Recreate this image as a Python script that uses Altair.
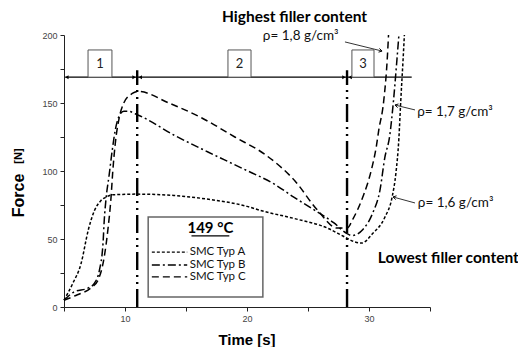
import altair as alt
import pandas as pd

# ---- curve data (Time [s], Force [N]) ----
A_x = [5, 5.7, 6.4, 7.0, 7.5, 8.0, 8.5, 9.0, 11.0, 14.0, 17.0, 20.0, 21.1, 23.9, 26.6, 27.9, 28.8, 29.4, 30.3, 31.3, 31.9, 32.2, 32.45, 32.6, 32.8, 32.9]
A_y = [5, 17, 32, 57, 71, 78, 81, 82.5, 83, 82, 79, 74, 71, 65, 58, 52, 48, 47, 54, 66, 81, 98, 124, 151, 183, 200]

B_x = [5, 5.8, 7.0, 7.5, 7.9, 8.2, 8.3, 8.45, 8.7, 8.95, 9.2, 9.5, 9.9, 10.2, 11.1, 14.1, 16.8, 19.6, 22.3, 23.8, 25.4, 27.1, 28.2, 28.6, 29.5, 30.3, 30.9, 31.3, 31.7, 32.0, 32.3, 32.45]
B_y = [5, 11, 14, 17.6, 27, 47, 64, 80, 97, 115, 130, 140, 144, 144, 141, 126, 114, 102, 90, 81, 72, 62, 54, 52.5, 57, 69, 86, 110, 126, 151, 183, 200]

C_x = [5, 6.1, 7.2, 7.8, 8.3, 8.6, 8.85, 9.0, 9.2, 9.5, 9.9, 10.6, 11.1, 13.6, 16.3, 19.0, 21.5, 23.9, 25.8, 27.4, 28.2, 28.7, 29.5, 30.2, 30.6, 30.8, 31.2, 31.5, 31.6]
C_y = [5, 9, 14, 20, 37, 57, 80, 100, 120, 138, 150, 157, 158.5, 150, 139, 125, 112, 93, 71, 58, 58, 65, 81, 101, 118, 130, 151, 183, 200]

series_names = ["SMC Typ A", "SMC Typ B", "SMC Typ C"]
dash_styles = [[3, 2], [8, 3, 2, 3], [7, 4]]

x_ticks = [5, 10, 15, 20, 25, 30, 35]
y_ticks = [0, 25, 50, 75, 100, 125, 150, 175, 200]

# phase markers
phase_x = [11.0, 28.2]
phase_top = 174
arrow_y = 169
arrow_x = [5.1, 33.5]
box_labels = ["1", "2", "3"]
box_x1 = [6.97, 18.44, 28.6]
box_x2 = [8.93, 20.33, 30.41]
box_y1 = 169
box_y2 = 189

# annotations
dens_labels = ["ρ= 1,8 g/cm³", "ρ= 1,7 g/cm³", "ρ= 1,6 g/cm³"]
dens_tx = [21.3, 33.95, 34.0]
dens_ty = [199.5, 143.4, 76.3]
dens_ax1 = [28.03, 33.77, 33.77]
dens_ay1 = [194.9, 144.9, 76.5]
dens_ax2 = [31.07, 32.13, 31.97]
dens_ay2 = [188.2, 148.5, 80.9]
dens_ang = [13.7, 194.0, 192.8]

bold_labels = ["Highest filler content", "Lowest filler content"]
bold_x = [23.9, 36.5]
bold_y = [213.5, 36.0]

legend_title = "149 °C"

# ---------------------------------------------------------------
rows = []
for name, xs, ys in zip(series_names, [A_x, B_x, C_x], [A_y, B_y, C_y]):
    for i, (xv, yv) in enumerate(zip(xs, ys)):
        rows.append({"x": xv, "y": yv, "s": name, "o": i})
curves = pd.DataFrame(rows)

xs_ = alt.Scale(domain=[5, 35], nice=False, zero=False)
ys_ = alt.Scale(domain=[0, 200], nice=False)
dash_scale = alt.Scale(domain=series_names, range=dash_styles)

axis_common = dict(grid=False, title=None, domainColor="#222", domainWidth=1,
                   tickColor="#222", tickSize=4, labelFont="Liberation Sans",
                   labelFontSize=9, labelColor="#444", labelPadding=3)
x_axis = alt.Axis(values=x_ticks, labelExpr="datum.value % 10 == 0 ? datum.label : ''", **axis_common)
y_axis = alt.Axis(values=y_ticks, labelExpr="datum.value % 50 == 0 ? datum.label : ''", **axis_common)


def xa(f="x"):
    return alt.X(f"{f}:Q", scale=xs_, axis=x_axis)


def ya(f="y"):
    return alt.Y(f"{f}:Q", scale=ys_, axis=y_axis)


lines = alt.Chart(curves).mark_line(interpolate="monotone", color="black", strokeWidth=1.5).encode(
    x=xa(), y=ya(), detail="s:N", order="o:Q",
    strokeDash=alt.StrokeDash("s:N", scale=dash_scale, legend=None),
)

# vertical phase lines
vdf = pd.DataFrame({"x": phase_x, "y": [0] * len(phase_x), "y2": [phase_top] * len(phase_x)})
vlines = alt.Chart(vdf).mark_rule(color="black", strokeWidth=2.4, strokeDash=[18, 5, 2, 5, 2, 5]).encode(
    x=xa(), y=ya(), y2="y2:Q")

# horizontal arrow line
hdf = pd.DataFrame({"x": [arrow_x[0]], "x2": [arrow_x[1]], "y": [arrow_y]})
hline = alt.Chart(hdf).mark_rule(color="black", strokeWidth=1.1).encode(x=xa(), x2="x2:Q", y=ya())

heads = pd.DataFrame({
    "x": [arrow_x[0], phase_x[0] - 0.12, phase_x[0] + 0.12, phase_x[1] - 0.12, phase_x[1] + 0.12],
    "y": [arrow_y] * 5,
    "ang": [180, 0, 180, 0, 180],
})
hheads = alt.Chart(heads).mark_point(shape="M0,0L-1,-0.6L-1,0.6Z", filled=True, color="black",
                                     size=45, opacity=1).encode(
    x=xa(), y=ya(), angle=alt.Angle("ang:Q", scale=None))

# numbered boxes
bdf = pd.DataFrame({"x": box_x1, "x2": box_x2, "y": [box_y1] * 3, "y2": [box_y2] * 3, "t": box_labels,
                    "xc": [(a + b) / 2 for a, b in zip(box_x1, box_x2)], "yc": [(box_y1 + box_y2) / 2] * 3})
boxes = alt.Chart(bdf).mark_rect(fill="white", stroke="#555", strokeWidth=1).encode(
    x=xa(), x2="x2:Q", y=ya(), y2="y2:Q")
box_text = alt.Chart(bdf).mark_text(font="Lato", fontSize=13, color="#222", baseline="middle").encode(
    x=xa("xc"), y=ya("yc"), text="t:N")

# density annotations
ddf = pd.DataFrame({"t": dens_labels, "tx": dens_tx, "ty": dens_ty, "x": dens_ax1, "y": dens_ay1,
                    "x2": dens_ax2, "y2": dens_ay2, "ang": dens_ang})
dtext = alt.Chart(ddf).mark_text(font="Lato", fontSize=13.5, align="left", baseline="middle", color="#111").encode(
    x=xa("tx"), y=ya("ty"), text="t:N")
dlines = alt.Chart(ddf).mark_rule(color="black", strokeWidth=0.8).encode(x=xa(), y=ya(), x2="x2:Q", y2="y2:Q")
dheads = alt.Chart(ddf).mark_point(shape="M-1,-0.6L0,0L-1,0.6", filled=False, color="black",
                                   strokeWidth=0.9, size=40, opacity=1).encode(
    x=xa("x2"), y=ya("y2"), angle=alt.Angle("ang:Q", scale=None))

btdf = pd.DataFrame({"t": bold_labels, "x": bold_x, "y": bold_y})
btext = alt.Chart(btdf).mark_text(font="Lato", fontWeight="bold", fontSize=15.5, baseline="middle",
                                  color="black").encode(x=xa(), y=ya(), text="t:N")

# legend box
lgbox = alt.Chart(pd.DataFrame({"x": [11.9], "x2": [21.3], "y": [7.4], "y2": [66.2]})).mark_rect(
    fill="white", stroke="#666", strokeWidth=1.5).encode(x=xa(), x2="x2:Q", y=ya(), y2="y2:Q")
lgtitle = alt.Chart(pd.DataFrame({"t": [legend_title], "x": [17.0], "y": [58.0]})).mark_text(
    font="Lato", fontWeight="bold", fontSize=15, baseline="middle").encode(x=xa(), y=ya(), text="t:N")
lgunder = alt.Chart(pd.DataFrame({"x": [15.45], "x2": [18.55], "y": [52.3]})).mark_rule(
    color="black", strokeWidth=1.2).encode(x=xa(), x2="x2:Q", y=ya())
lgrow = pd.DataFrame({"s": series_names, "x": [12.2] * 3, "x2": [15.1] * 3, "y": [40.4, 30.9, 22.1],
                      "tx": [15.3] * 3})
lgsample = alt.Chart(lgrow).mark_rule(color="black", strokeWidth=1.3).encode(
    x=xa(), x2="x2:Q", y=ya(), strokeDash=alt.StrokeDash("s:N", scale=dash_scale, legend=None))
lgtext = alt.Chart(lgrow).mark_text(font="Lato", fontSize=11.5, align="left", baseline="middle",
                                    color="#111").encode(x=xa("tx"), y=ya(), text="s:N")

# axis titles
xt = alt.Chart(pd.DataFrame({"t": ["Time [s]"], "x": [20.0], "y": [-24.5]})).mark_text(
    font="Liberation Sans", fontWeight="bold", fontSize=15, baseline="middle").encode(x=xa(), y=ya(), text="t:N")
yt1 = alt.Chart(pd.DataFrame({"t": ["Force"], "x": [1.35], "y": [82.0]})).mark_text(
    font="Liberation Sans", fontWeight="bold", fontSize=16, angle=270, baseline="middle").encode(
    x=xa(), y=ya(), text="t:N")
yt2 = alt.Chart(pd.DataFrame({"t": ["[N]"], "x": [1.35], "y": [111.0]})).mark_text(
    font="Liberation Sans", fontWeight="bold", fontSize=11, angle=270, baseline="middle").encode(
    x=xa(), y=ya(), text="t:N")

chart = alt.layer(
    lines, vlines, hline, hheads, boxes, box_text, dlines, dheads, dtext, btext,
    lgbox, lgtitle, lgunder, lgsample, lgtext, xt, yt1, yt2
).properties(
    width=366, height=272,
    autosize=alt.AutoSizeParams(type="none"),
    padding={"left": 56, "top": 27, "right": 88, "bottom": 40},
    background="white",
).configure_view(stroke=None)

chart.save("out.html", embed_options={"renderer": "svg", "actions": False})
